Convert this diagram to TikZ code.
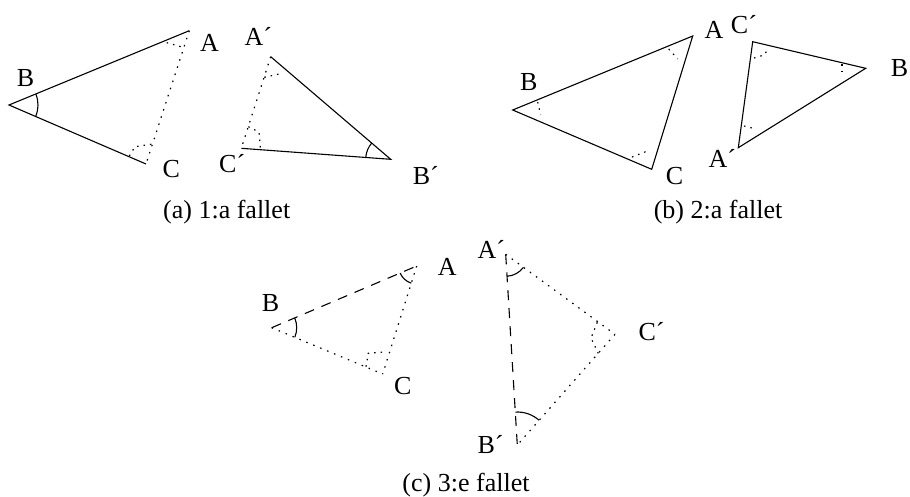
\documentclass[tikz,border=0pt]{standalone}
\usepackage{fontspec}
\setmainfont{Liberation Serif}
\usetikzlibrary{angles,calc}
\begin{document}
\begin{tikzpicture}[x=1pt,y=-1pt,
  side/.style={line width=1.1pt},
  dotside/.style={line width=1.2pt, dash pattern=on 1.5pt off 6pt},
  dashside/.style={line width=1.1pt, dash pattern=on 10pt off 8pt},
  ramark/.style={line width=1.2pt, dash pattern=on 1.5pt off 5pt},
  arcmark/.style={draw, line width=1.1pt},
  lbl/.style={anchor=base west, inner sep=0pt, font=\fontsize{26}{30}\selectfont},
  captext/.style={anchor=base, inner sep=0pt, font=\fontsize{26}{30}\selectfont}]
\useasboundingbox (0,0) rectangle (910,496);

% ---------- (a) ----------
\coordinate (aA) at (189.3,30.7);
\coordinate (aB) at (9,105);
\coordinate (aC) at (146,164);
\draw[side] (aA) -- (aB) -- (aC);
\draw[dotside] (aA) -- (aC);
\pic[arcmark, angle radius=29pt] {angle=aC--aB--aA};
\draw[ramark] ($(aA)+(-22.6,12)$) -- ($(aA)+(-6.3,16.6)$);
\draw[ramark] ($(aC)+(-16.7,-8)$) -- ($(aC)+(-11,-17.3)$) -- ($(aC)+(7,-20)$);
\node[lbl] (laA) at (200,51.7) {A};
\node[lbl] (laB) at (16.7,86) {B};
\node[lbl] (laC) at (162.3,177.3) {C};

\coordinate (aAp) at (270.7,56.7);
\coordinate (aCp) at (241.3,148.3);
\coordinate (aBp) at (390.7,159.3);
\draw[side] (aAp) -- (aBp) -- (aCp);
\draw[dotside] (aAp) -- (aCp);
\pic[arcmark, angle radius=25pt] {angle=aAp--aBp--aCp};
\draw[ramark] ($(aAp)+(-6.4,20.6)$) -- ($(aAp)+(8.3,17.3)$);
\draw[ramark] ($(aCp)+(7,-21.6)$) -- ($(aCp)+(17.7,-16.3)$) -- ($(aCp)+(19.2,1.2)$);
\node[lbl] (laAp) at (244.3,45) {A´};
\node[lbl] (laCp) at (219,172.3) {C´};
\node[lbl] (laBp) at (412.7,184) {B´};
\node[captext] (capa) at (226.7,218) {(a) 1:a fallet};

% ---------- (b) ----------
\coordinate (bA) at (692.7,36);
\coordinate (bB) at (512.7,110);
\coordinate (bC) at (651.7,169.3);
\draw[side] (bA) -- (bB) -- (bC) -- cycle;
\draw[ramark] ($(bA)+(-24,13)$) -- ($(bA)+(-15,23)$);
\draw[ramark] ($(bB)+(25,-8)$) -- ($(bB)+(28,5)$);
\draw[ramark] ($(bC)+(-19.7,-12.3)$) -- ($(bC)+(-1.7,-19.3)$);
\node[lbl] (lbA) at (704.3,38.3) {A};
\node[lbl] (lbB) at (520,90.7) {B};
\node[lbl] (lbC) at (665.7,184) {C};

\coordinate (bCp) at (752.7,41.7);
\coordinate (bBr) at (865.7,68.3);
\coordinate (bAp) at (738.3,147.7);
\draw[side] (bCp) -- (bBr) -- (bAp) -- cycle;
\draw[ramark] ($(bCp)+(1.3,16.3)$) -- ($(bCp)+(11.3,13.3)$) -- ($(bCp)+(16.3,6.3)$);
\draw[ramark] ($(bBr)+(-23.7,-4.3)$) -- ($(bBr)+(-23.7,7.7)$);
\draw[ramark] ($(bAp)+(5.7,-21.7)$) -- ($(bAp)+(17.7,-18.7)$);
\node[lbl] (lbCp) at (730.7,33.3) {C´};
\node[lbl] (lbBr) at (890.7,76) {B};
\node[lbl] (lbAp) at (708.5,167.5) {A´};
\node[captext] (capb) at (718,218) {(b) 2:a fallet};

% ---------- (c) ----------
\coordinate (cA) at (416.7,266);
\coordinate (cB) at (271.7,327.7);
\coordinate (cC) at (382.7,374);
\draw[dashside] (cB) -- (cA);
\draw[dotside] (cB) -- (cC);
\draw[dotside] (cA) -- (cC);
\pic[arcmark, angle radius=18pt] {angle=cB--cA--cC};
\pic[arcmark, angle radius=25pt] {angle=cC--cB--cA};
\draw[ramark] ($(cC)+(-16.7,-7.3)$) -- ($(cC)+(-14.4,-20.7)$) -- ($(cC)+(4,-22.3)$);
\node[lbl] (lcA) at (437.7,275) {A};
\node[lbl] (lcB) at (261.7,311.7) {B};
\node[lbl] (lcC) at (394,394) {C};

\coordinate (cAp) at (505.7,254.3);
\coordinate (cCp) at (615,334.3);
\coordinate (cBp) at (517.3,445);
\draw[dashside] (cAp) -- (cBp);
\draw[dotside] (cAp) -- (cCp);
\draw[dotside] (cCp) -- (cBp);
\pic[arcmark, angle radius=22pt] {angle=cBp--cAp--cCp};
\pic[arcmark, angle radius=33pt] {angle=cCp--cBp--cAp};
\draw[ramark] ($(cCp)+(-17.7,-12)$) -- ($(cCp)+(-24,3.7)$) -- ($(cCp)+(-16.7,19)$);
\node[lbl] (lcAp) at (477.3,258.3) {A´};
\node[lbl] (lcCp) at (638.3,340) {C´};
\node[lbl] (lcBp) at (477.3,453.3) {B´};
\node[captext] (capc) at (466,491.5) {(c) 3:e fallet};
\end{tikzpicture}
\end{document}
